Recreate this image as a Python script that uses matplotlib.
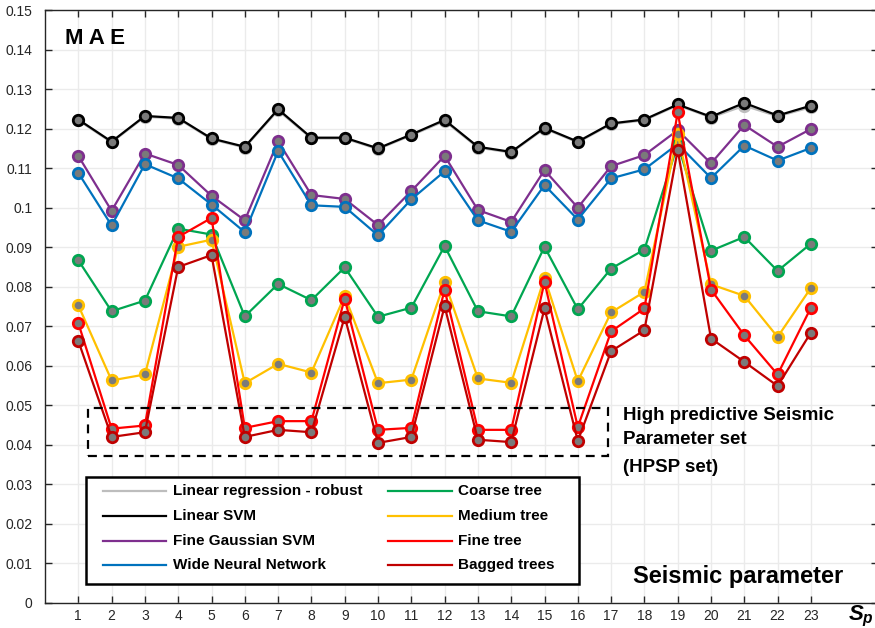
import matplotlib
matplotlib.use("Agg")
import matplotlib.pyplot as plt
from matplotlib.lines import Line2D
from matplotlib.patches import Rectangle

plt.rcParams['font.family'] = ['Liberation Sans', 'DejaVu Sans']
plt.rcParams['mathtext.fontset'] = 'custom'
plt.rcParams['mathtext.it'] = 'Liberation Sans:bold:italic'
plt.rcParams['mathtext.rm'] = 'Liberation Sans:bold'

params = list(range(1, 24))

lin_robust = [0.1221, 0.1165, 0.1230, 0.1225, 0.1173, 0.1152, 0.1246, 0.1175, 0.1175,
              0.1148, 0.1183, 0.1219, 0.1152, 0.1139, 0.1200, 0.1165, 0.1211, 0.1221,
              0.1259, 0.1228, 0.1258, 0.1231, 0.1254]
lin_svm = [0.1223, 0.1167, 0.1232, 0.1227, 0.1175, 0.1154, 0.1249, 0.1177, 0.1177,
           0.1150, 0.1185, 0.1222, 0.1154, 0.1141, 0.1202, 0.1167, 0.1213, 0.1223,
           0.1261, 0.1230, 0.1265, 0.1233, 0.1258]
fine_gauss_svm = [0.1131, 0.0992, 0.1137, 0.1108, 0.1030, 0.0968, 0.1168, 0.1032, 0.1022,
                  0.0956, 0.1042, 0.1131, 0.0994, 0.0964, 0.1095, 0.1000, 0.1105, 0.1133,
                  0.1196, 0.1112, 0.1209, 0.1154, 0.1199]
wide_nn = [0.1088, 0.0955, 0.1110, 0.1074, 0.1008, 0.0938, 0.1143, 0.1006, 0.1002,
           0.0930, 0.1021, 0.1092, 0.0968, 0.0939, 0.1057, 0.0970, 0.1074, 0.1097,
           0.1161, 0.1075, 0.1157, 0.1119, 0.1151]
coarse_tree = [0.0867, 0.0738, 0.0765, 0.0947, 0.0932, 0.0725, 0.0807, 0.0766, 0.0849,
               0.0724, 0.0747, 0.0903, 0.0738, 0.0725, 0.0901, 0.0743, 0.0846, 0.0894,
               0.1160, 0.0891, 0.0926, 0.0840, 0.0909]
medium_tree = [0.0753, 0.0563, 0.0578, 0.0901, 0.0919, 0.0556, 0.0605, 0.0583, 0.0777,
               0.0556, 0.0565, 0.0812, 0.0568, 0.0557, 0.0823, 0.0561, 0.0735, 0.0787,
               0.1186, 0.0806, 0.0777, 0.0673, 0.0797]
fine_tree = [0.0708, 0.0441, 0.0449, 0.0926, 0.0974, 0.0443, 0.0460, 0.0460, 0.0770,
             0.0438, 0.0443, 0.0793, 0.0438, 0.0438, 0.0812, 0.0445, 0.0687, 0.0745,
             0.1241, 0.0793, 0.0677, 0.0578, 0.0747]
bagged_trees = [0.0663, 0.0420, 0.0432, 0.0850, 0.0880, 0.0420, 0.0438, 0.0432, 0.0724,
                0.0405, 0.0420, 0.0751, 0.0413, 0.0407, 0.0745, 0.0410, 0.0637, 0.0690,
                0.1146, 0.0669, 0.0610, 0.0549, 0.0684]

labels = ['Linear regression - robust', 'Linear SVM', 'Fine Gaussian SVM',
          'Wide Neural Network', 'Coarse tree', 'Medium tree', 'Fine tree', 'Bagged trees']
colors = ['#BDBDBD', '#000000', '#7E2F8E', '#0072BD',
          '#00A651', '#FFC000', '#FF0000', '#C00000']
series = [lin_robust, lin_svm, fine_gauss_svm, wide_nn,
          coarse_tree, medium_tree, fine_tree, bagged_trees]

W, H = 875, 628
fig = plt.figure(figsize=(W / 100, H / 100), dpi=100)
ax = fig.add_axes([45 / W, 25 / H, (877.5 - 45) / W, 593 / H])


def fx(px):
    return px / W


def fy(py):
    return 1 - py / H


# draw order: lower models first so the upper curves sit on top
order = [4, 5, 6, 7, 3, 2, 0, 1]
for i in order:
    ax.plot(params, series[i], color=colors[i], lw=1.6, marker='o', ms=7.5,
            mfc='#7A7A7A', mec=colors[i], mew=2.0, zorder=3 + i * 0.1)

# dashed frame around the high predictive parameter set
ax.add_patch(Rectangle((1.3, 0.0373), 16.9 - 1.3, 0.0492 - 0.0373, fill=False,
                       ec='black', lw=1.6, ls=(0, (4, 3)), zorder=5))

ax.set_xlim(0, 25)
ax.set_ylim(0, 0.15)
ax.set_xticks(params)
ax.set_xticklabels([str(p) for p in params])
yt = [round(0.01 * k, 2) for k in range(16)]
ax.set_yticks(yt)
ax.set_yticklabels(['0'] + ['%g' % v for v in yt[1:]])
ax.grid(True, color='#EBEBEB', lw=1.0, zorder=0)
ax.set_axisbelow(True)
ax.tick_params(direction='in', length=5, width=1, top=True, right=True,
               colors='#262626', labelsize=10, labelcolor='#262626')
ax.tick_params(axis='x', pad=4)
ax.tick_params(axis='y', pad=9)
for s in ax.spines.values():
    s.set_color('#262626')
    s.set_linewidth(1.0)

fig.text(fx(65), fy(38), 'M A E', fontsize=16, fontweight='bold', va='center', ha='left')
fig.text(fx(623), fy(415), 'High predictive Seismic', fontsize=13.5,
         fontweight='bold', va='center', ha='left')
fig.text(fx(623), fy(440), 'Parameter set', fontsize=13.5,
         fontweight='bold', va='center', ha='left')
fig.text(fx(623), fy(467), '(HPSP set)', fontsize=13.5,
         fontweight='bold', va='center', ha='left')
fig.text(fx(633), fy(577), 'Seismic parameter', fontsize=17,
         fontweight='bold', va='center', ha='left')
fig.text(fx(848), fy(616), r'$S_p$', fontsize=16, va='center', ha='left')

# legend, laid out in two columns inside a plain black frame
fig.add_artist(Rectangle((fx(86), fy(584)), fx(579) - fx(86), fy(477) - fy(584),
                         transform=fig.transFigure, fill=True, fc='white',
                         ec='black', lw=1.8, zorder=10))
row_y = [491, 516, 541, 565]
col_x = [(103, 166, 173), (388, 452, 458)]
for k, (lab, c) in enumerate(zip(labels, colors)):
    col, row = divmod(k, 4)
    x0, x1, xt = col_x[col]
    fig.add_artist(Line2D([fx(x0), fx(x1)], [fy(row_y[row])] * 2,
                          transform=fig.transFigure, color=c, lw=1.6, zorder=11))
    fig.text(fx(xt), fy(row_y[row]), lab, fontsize=11, fontweight='bold',
             va='center', ha='left', zorder=11)

fig.savefig('out.png', dpi=100)
